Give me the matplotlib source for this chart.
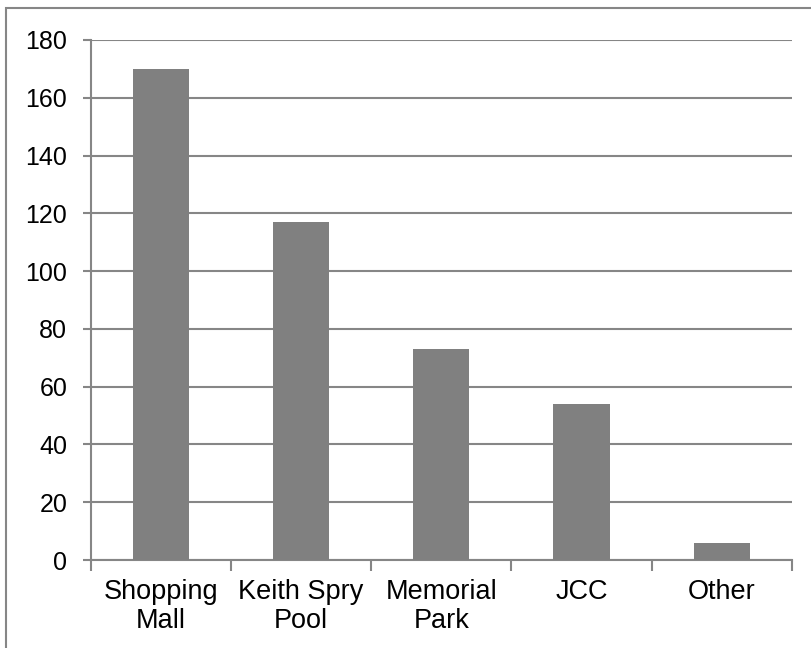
import numpy as np
import matplotlib.pyplot as plt
from matplotlib.patches import Rectangle

# data
categories = ['Shopping\nMall', 'Keith Spry\nPool', 'Memorial\nPark', 'JCC', 'Other']
values = [170, 117, 73, 54, 6]
yticks = [0, 20, 40, 60, 80, 100, 120, 140, 160, 180]

plt.rcParams['font.family'] = ['Liberation Sans', 'DejaVu Sans']
grey = '#868686'

fig = plt.figure(figsize=(8.12, 6.48), dpi=100)
ax = fig.add_axes([0.112, 0.1358, 0.863, 0.8025])

x = np.arange(len(categories))
ax.bar(x, values, width=0.4, color='#808080', zorder=3)

ax.set_xlim(-0.5, len(categories) - 0.5)
ax.set_ylim(0, 180)
ax.set_yticks(yticks)
ax.set_xticks(x)
ax.set_xticklabels(categories, fontsize=19.5, linespacing=1.15)
ax.tick_params(axis='x', length=0, pad=14)
ax.set_xticks(np.arange(len(categories) + 1) - 0.5, minor=True)
ax.tick_params(axis='x', which='minor', length=8, width=1.5, color=grey)
ax.tick_params(axis='y', labelsize=18, length=6, width=1.5, color=grey, pad=11)

ax.grid(axis='y', color=grey, linewidth=1.5, zorder=0)
for s in ['top', 'right']:
    ax.spines[s].set_visible(False)
for s in ['left', 'bottom']:
    ax.spines[s].set_color(grey)
    ax.spines[s].set_linewidth(1.5)

# outer chart frame
fig.patches.append(Rectangle((0.007, -0.1), 1.1, 1.088, transform=fig.transFigure,
                             fill=False, edgecolor=grey, linewidth=1.5))

plt.savefig('out.png')
